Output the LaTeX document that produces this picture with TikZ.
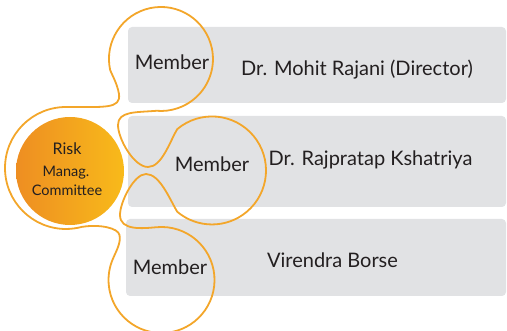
\documentclass[tikz,border=0pt]{standalone}
\usepackage{fontspec}
\setmainfont{Lato}
\usetikzlibrary{positioning}
\definecolor{ringorange}{RGB}{243,166,42}
\definecolor{boxgray}{RGB}{225,226,228}
\definecolor{fillleft}{RGB}{238,142,34}
\definecolor{fillright}{RGB}{248,186,26}
\definecolor{inkblack}{RGB}{35,31,32}
\tikzset{
  memberbox/.style={fill=boxgray, rounded corners=4pt},
  outline/.style={draw=ringorange, line width=1.8pt, line join=round},
  membertext/.style={anchor=base, text=inkblack, font=\fontsize{20}{24}\selectfont},
  nametext/.style={anchor=base, text=inkblack, font=\fontsize{20}{24}\selectfont},
  risktext/.style={anchor=base, text=inkblack, font=\fontsize{14.5}{17}\selectfont},
}

\begin{document}
\begin{tikzpicture}[x=1pt, y=1pt]
\useasboundingbox (0,0) rectangle (507,331);
% grey bars behind the members
\fill[memberbox] (128,228) rectangle (506,304);
\fill[memberbox] (128,124) rectangle (506,215);
\fill[memberbox] (126,35) rectangle (506,112);
%
\node[circle, inner sep=0, minimum size=108pt, left color=fillleft, right color=fillright] (risk) at (70,160) {};
% ring round the committee
\path[outline] (66,224) arc[start angle=90, end angle=270, radius=61];
% one outline round the committee and the three members
\path[outline]
  (66,224) .. controls (105,224) and (121,222) .. (119,237)
  .. controls (117,248) and (112,256) .. (110.1,261.2)
  arc[start angle=192, end angle=-95, radius=52]
  .. controls (136,218.5) and (118,220) .. (118,206)
  .. controls (118,192) and (134,164) .. (148,164)
  .. controls (162,164) and (170,190) .. (177.3,201.9)
  arc[start angle=130, end angle=-130, radius=54]
  .. controls (170,131) and (160,157) .. (146,157)
  .. controls (134,157) and (120,129) .. (120,116)
  .. controls (120,100) and (142.9,102.6) .. (156.9,103.8)
  arc[start angle=95, end angle=-203, radius=53]
  .. controls (116.6,80.9) and (121,88) .. (119.5,96)
  .. controls (118,103) and (100,107) .. (81.8,104.1)
  arc[start angle=-75, end angle=-90, radius=61];
%
\node[risktext, font=\fontsize{16}{19}\selectfont] (risk line1) at (67,176) {Risk};
\node[risktext] (risk line2) at (66,154) {Manag.};
\node[risktext] (risk line3) at (67,135) {Committee};
%
\node[membertext] (member1) at (172,261) {Member};
\node[membertext] (member2) at (212,159) {Member};
\node[membertext] (member3) at (170,56) {Member};
\node[nametext] (name1) at (357,255) {Dr. Mohit Rajani (Director)};
\node[nametext] (name2) at (370.5,165) {Dr. Rajpratap Kshatriya};
\node[nametext] (name3) at (332.5,63) {Virendra Borse};
\end{tikzpicture}
\end{document}
